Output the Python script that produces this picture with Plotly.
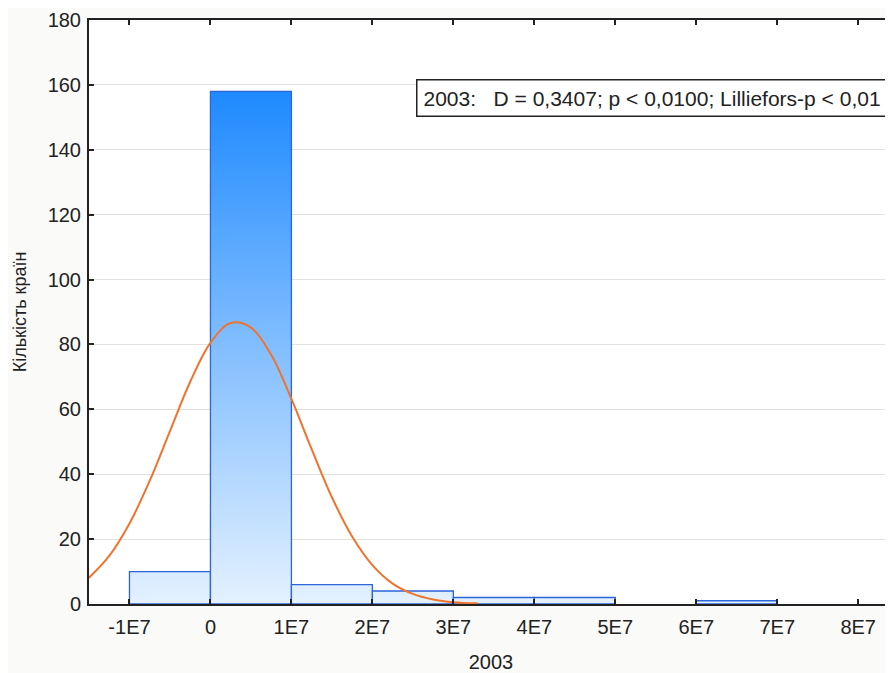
import plotly.graph_objects as go

# Histogram bins (left edges, right edges) and counts
bin_left = [-1e7, 0, 1e7, 2e7, 3e7, 4e7, 5e7, 6e7, 7e7]
bin_right = [0, 1e7, 2e7, 3e7, 4e7, 5e7, 6e7, 7e7, 8e7]
counts = [10, 158, 6, 4, 2, 2, 0, 1, 0]

# Fitted normal curve
curve_x = [-1.5e7, -1.25e7, -1.0e7, -0.75e7, -0.5e7, -0.25e7, 0, 0.25e7, 0.5e7,
           0.75e7, 1.0e7, 1.25e7, 1.5e7, 1.75e7, 2.0e7, 2.25e7, 2.5e7, 2.75e7, 3.0e7, 3.3e7]
curve_y = [8.1, 14.8, 24.8, 38.0, 53.3, 68.5, 80.5, 86.6, 85.2,
           76.8, 63.2, 47.7, 32.9, 20.8, 12.0, 6.3, 3.1, 1.4, 0.55, 0.2]

tick_vals = [-1e7, 0, 1e7, 2e7, 3e7, 4e7, 5e7, 6e7, 7e7, 8e7]
tick_text = ["-1E7", "0", "1E7", "2E7", "3E7", "4E7", "5E7", "6E7", "7E7", "8E7"]

legend_text = "2003:\u00a0\u00a0\u00a0D = 0,3407; p < 0,0100; Lilliefors-p < 0,01"

FONT = "Liberation Sans, Arial, sans-serif"

fig = go.Figure()

for l, r, c in zip(bin_left, bin_right, counts):
    if c <= 0:
        continue
    fig.add_trace(go.Scatter(
        x=[l, l, r, r, l], y=[0, c, c, 0, 0],
        mode="lines", fill="toself",
        line=dict(color="rgb(45,100,215)", width=1.3),
        fillgradient=dict(type="vertical",
                          colorscale=[[0, "rgb(228,241,255)"], [0.5, "rgb(130,190,255)"], [1, "rgb(30,138,255)"]],
                          start=0, stop=158),
        hoverinfo="skip", showlegend=False))

fig.add_trace(go.Scatter(
    x=curve_x, y=curve_y, mode="lines",
    line=dict(color="rgb(240,115,45)", width=2, shape="spline", smoothing=1.0),
    showlegend=False))

fig.add_annotation(
    xref="paper", yref="paper", x=0.9938, y=0.8656, xanchor="right", yanchor="middle",
    text=legend_text, showarrow=False,
    font=dict(family=FONT, size=21, color="#222"),
    bordercolor="#222", borderwidth=1.5, borderpad=6, bgcolor="white")

axis_font = dict(family=FONT, size=20, color="#222")

fig.update_xaxes(
    range=[-1.5e7, 8.43e7], tickvals=tick_vals, ticktext=tick_text,
    ticks="inside", ticklen=5, tickwidth=1.5, tickcolor="#222",
    showline=True, linecolor="#222", linewidth=2, mirror="ticks",
    showgrid=False, zeroline=False, tickfont=axis_font, ticklabelstandoff=4,
    title=dict(text="2003", font=axis_font, standoff=20))
fig.update_yaxes(
    range=[0, 180], dtick=20,
    ticks="inside", ticklen=5, tickwidth=1.5, tickcolor="#222",
    showline=True, linecolor="#222", linewidth=2,
    showgrid=True, gridcolor="rgb(225,225,222)", gridwidth=1, zeroline=False,
    tickfont=axis_font, ticklabelstandoff=2,
    title=dict(text="Кількість країн", font=dict(family=FONT, size=18, color="#222"), standoff=16))

# page body has an 8px margin: shift margins so the plot area lands at x 89-893, y 20-604
fig.update_layout(
    width=885, height=665,
    margin=dict(l=81, r=0, t=12, b=69),
    paper_bgcolor="rgb(250,250,248)", plot_bgcolor="white",
    showlegend=False)

fig.write_html("out.html")
